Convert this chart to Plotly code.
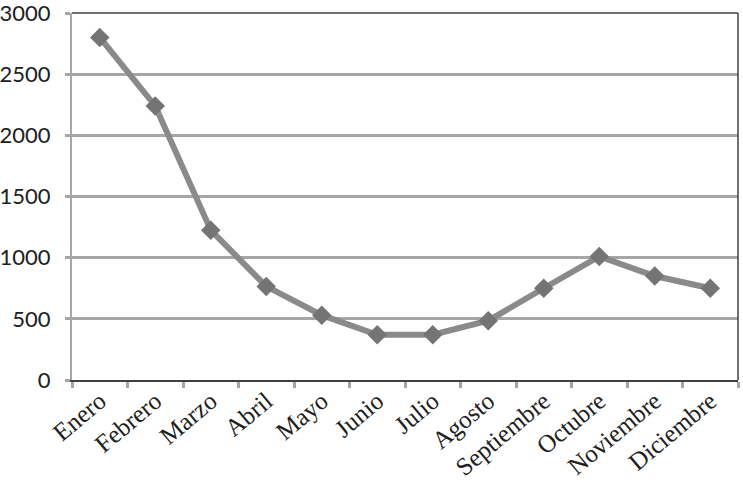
import plotly.graph_objects as go

meses = ["Enero", "Febrero", "Marzo", "Abril", "Mayo", "Junio", "Julio",
         "Agosto", "Septiembre", "Octubre", "Noviembre", "Diciembre"]
valores = [2800, 2240, 1225, 765, 530, 370, 370, 485, 750, 1010, 850, 750]
y_ticks = [0, 500, 1000, 1500, 2000, 2500, 3000]

fig = go.Figure()
fig.add_trace(go.Scatter(
    x=meses, y=valores, mode="lines+markers",
    line=dict(color="#8a8a8a", width=6),
    marker=dict(symbol="diamond", size=15, color="#747474",
                line=dict(width=0)),
    showlegend=False, cliponaxis=False,
))

fig.update_layout(
    width=743, height=480,
    margin=dict(l=72, r=5, t=13, b=100),
    paper_bgcolor="white", plot_bgcolor="white",
    xaxis=dict(
        type="category", range=[-0.5, 11.5], automargin=False,
        showgrid=False, showline=True, linecolor="#404040", linewidth=1.5,
        ticks="outside", tickson="boundaries", ticklen=6, tickwidth=3,
        tickcolor="#a6a6a6", tickangle=-40, ticklabeloverflow="allow",
        ticklabelstandoff=-5,
        tickfont=dict(family="Liberation Serif", size=25, color="#202020"),
        zeroline=False,
    ),
    yaxis=dict(
        range=[0, 3000], tickvals=y_ticks, automargin=False,
        showgrid=True, gridcolor="#a6a6a6", gridwidth=3,
        showline=True, linecolor="#a6a6a6", linewidth=2,
        ticks="outside", ticklen=5, tickwidth=3, tickcolor="#a6a6a6",
        ticklabelstandoff=10, ticklabeloverflow="allow",
        tickfont=dict(family="Lato", size=22, color="#202020"),
        zeroline=False,
    ),
)
fig.add_shape(type="line", xref="paper", yref="paper", x0=0, x1=1, y0=1, y1=1,
              line=dict(color="#404040", width=1.5), layer="above")
fig.add_shape(type="line", xref="paper", yref="paper", x0=1, x1=1, y0=0, y1=1,
              line=dict(color="#404040", width=1.5), layer="above")

fig.write_html(
    "out.html",
    config={"displayModeBar": False},
    post_script="document.body.style.margin='0';document.body.style.overflow='hidden';",
)
